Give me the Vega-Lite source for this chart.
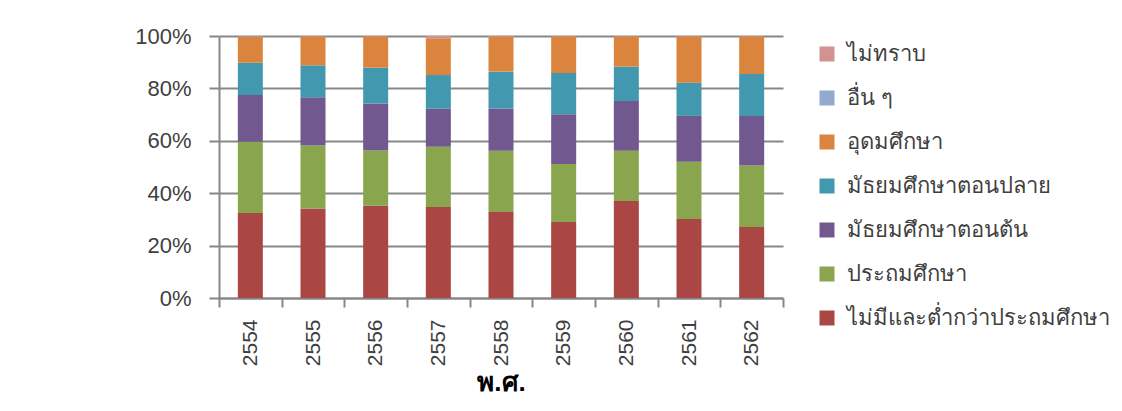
{
  "$schema": "https://vega.github.io/schema/vega-lite/v6.json",
  "width": 564,
  "height": 262,
  "autosize": {"type": "none"},
  "padding": {"left": 219, "top": 36, "right": 339, "bottom": 113},
  "background": "white",
  "config": {
    "view": {"stroke": null},
    "font": "Liberation Sans",
    "axis": {"labelColor": "#404040", "titleColor": "#000000", "domainColor": "#878787", "tickColor": "#878787", "gridColor": "#878787", "domainWidth": 2, "tickWidth": 2, "gridWidth": 2}
  },
  "datasets": {
    "levels": [
      {"edu": "ไม่มีและต่ำกว่าประถมศึกษา", "level": 1},
      {"edu": "ประถมศึกษา", "level": 2},
      {"edu": "มัธยมศึกษาตอนต้น", "level": 3},
      {"edu": "มัธยมศึกษาตอนปลาย", "level": 4},
      {"edu": "อุดมศึกษา", "level": 5},
      {"edu": "อื่น ๆ", "level": 6},
      {"edu": "ไม่ทราบ", "level": 7}
    ]
  },
  "data": {
    "values": [
      {"year": "2554", "edu": "ไม่มีและต่ำกว่าประถมศึกษา", "pct": 32.4},
      {"year": "2554", "edu": "ประถมศึกษา", "pct": 27.2},
      {"year": "2554", "edu": "มัธยมศึกษาตอนต้น", "pct": 17.9},
      {"year": "2554", "edu": "มัธยมศึกษาตอนปลาย", "pct": 12.3},
      {"year": "2554", "edu": "อุดมศึกษา", "pct": 9.9},
      {"year": "2554", "edu": "อื่น ๆ", "pct": 0.1},
      {"year": "2554", "edu": "ไม่ทราบ", "pct": 0.2},
      {"year": "2555", "edu": "ไม่มีและต่ำกว่าประถมศึกษา", "pct": 34.2},
      {"year": "2555", "edu": "ประถมศึกษา", "pct": 24.0},
      {"year": "2555", "edu": "มัธยมศึกษาตอนต้น", "pct": 18.4},
      {"year": "2555", "edu": "มัธยมศึกษาตอนปลาย", "pct": 12.2},
      {"year": "2555", "edu": "อุดมศึกษา", "pct": 11.0},
      {"year": "2555", "edu": "อื่น ๆ", "pct": 0.0},
      {"year": "2555", "edu": "ไม่ทราบ", "pct": 0.2},
      {"year": "2556", "edu": "ไม่มีและต่ำกว่าประถมศึกษา", "pct": 35.2},
      {"year": "2556", "edu": "ประถมศึกษา", "pct": 21.1},
      {"year": "2556", "edu": "มัธยมศึกษาตอนต้น", "pct": 17.9},
      {"year": "2556", "edu": "มัธยมศึกษาตอนปลาย", "pct": 13.7},
      {"year": "2556", "edu": "อุดมศึกษา", "pct": 11.9},
      {"year": "2556", "edu": "อื่น ๆ", "pct": 0.0},
      {"year": "2556", "edu": "ไม่ทราบ", "pct": 0.2},
      {"year": "2557", "edu": "ไม่มีและต่ำกว่าประถมศึกษา", "pct": 34.7},
      {"year": "2557", "edu": "ประถมศึกษา", "pct": 23.0},
      {"year": "2557", "edu": "มัธยมศึกษาตอนต้น", "pct": 14.6},
      {"year": "2557", "edu": "มัธยมศึกษาตอนปลาย", "pct": 12.8},
      {"year": "2557", "edu": "อุดมศึกษา", "pct": 14.0},
      {"year": "2557", "edu": "อื่น ๆ", "pct": 0.0},
      {"year": "2557", "edu": "ไม่ทราบ", "pct": 0.9},
      {"year": "2558", "edu": "ไม่มีและต่ำกว่าประถมศึกษา", "pct": 32.8},
      {"year": "2558", "edu": "ประถมศึกษา", "pct": 23.4},
      {"year": "2558", "edu": "มัธยมศึกษาตอนต้น", "pct": 16.1},
      {"year": "2558", "edu": "มัธยมศึกษาตอนปลาย", "pct": 14.1},
      {"year": "2558", "edu": "อุดมศึกษา", "pct": 13.3},
      {"year": "2558", "edu": "อื่น ๆ", "pct": 0.0},
      {"year": "2558", "edu": "ไม่ทราบ", "pct": 0.3},
      {"year": "2559", "edu": "ไม่มีและต่ำกว่าประถมศึกษา", "pct": 29.0},
      {"year": "2559", "edu": "ประถมศึกษา", "pct": 22.1},
      {"year": "2559", "edu": "มัธยมศึกษาตอนต้น", "pct": 19.0},
      {"year": "2559", "edu": "มัธยมศึกษาตอนปลาย", "pct": 15.8},
      {"year": "2559", "edu": "อุดมศึกษา", "pct": 13.9},
      {"year": "2559", "edu": "อื่น ๆ", "pct": 0.0},
      {"year": "2559", "edu": "ไม่ทราบ", "pct": 0.2},
      {"year": "2560", "edu": "ไม่มีและต่ำกว่าประถมศึกษา", "pct": 37.0},
      {"year": "2560", "edu": "ประถมศึกษา", "pct": 19.2},
      {"year": "2560", "edu": "มัธยมศึกษาตอนต้น", "pct": 19.0},
      {"year": "2560", "edu": "มัธยมศึกษาตอนปลาย", "pct": 13.1},
      {"year": "2560", "edu": "อุดมศึกษา", "pct": 11.5},
      {"year": "2560", "edu": "อื่น ๆ", "pct": 0.0},
      {"year": "2560", "edu": "ไม่ทราบ", "pct": 0.2},
      {"year": "2561", "edu": "ไม่มีและต่ำกว่าประถมศึกษา", "pct": 30.2},
      {"year": "2561", "edu": "ประถมศึกษา", "pct": 21.8},
      {"year": "2561", "edu": "มัธยมศึกษาตอนต้น", "pct": 17.5},
      {"year": "2561", "edu": "มัธยมศึกษาตอนปลาย", "pct": 12.7},
      {"year": "2561", "edu": "อุดมศึกษา", "pct": 17.6},
      {"year": "2561", "edu": "อื่น ๆ", "pct": 0.0},
      {"year": "2561", "edu": "ไม่ทราบ", "pct": 0.2},
      {"year": "2562", "edu": "ไม่มีและต่ำกว่าประถมศึกษา", "pct": 27.1},
      {"year": "2562", "edu": "ประถมศึกษา", "pct": 23.5},
      {"year": "2562", "edu": "มัธยมศึกษาตอนต้น", "pct": 18.9},
      {"year": "2562", "edu": "มัธยมศึกษาตอนปลาย", "pct": 16.0},
      {"year": "2562", "edu": "อุดมศึกษา", "pct": 14.3},
      {"year": "2562", "edu": "อื่น ๆ", "pct": 0.0},
      {"year": "2562", "edu": "ไม่ทราบ", "pct": 0.2}
    ]
  },
  "transform": [
    {"lookup": "edu", "from": {"data": {"name": "levels"}, "key": "edu", "fields": ["level"]}}
  ],
  "mark": {"type": "bar", "size": 25},
  "encoding": {
    "x": {
      "field": "year",
      "type": "nominal",
      "scale": {"paddingInner": 0, "paddingOuter": 0},
      "axis": {
        "title": "พ.ศ.",
        "titleFontSize": 26,
        "titleFontWeight": "bold",
        "titlePadding": 4,
        "labelAngle": 270,
        "labelFontSize": 21,
        "labelPadding": 12,
        "tickBand": "extent",
        "tickSize": 9,
        "grid": false
      }
    },
    "y": {
      "field": "pct",
      "type": "quantitative",
      "stack": "normalize",
      "scale": {"domain": [0, 1]},
      "axis": {
        "title": null,
        "format": ".0%",
        "values": [0, 0.2, 0.4, 0.6, 0.8, 1],
        "labelFontSize": 22,
        "labelPadding": 18,
        "tickSize": 10,
        "grid": true
      }
    },
    "order": {"field": "level", "type": "quantitative", "sort": "ascending"},
    "color": {
      "field": "edu",
      "type": "nominal",
      "scale": {
        "domain": ["ไม่ทราบ", "อื่น ๆ", "อุดมศึกษา", "มัธยมศึกษาตอนปลาย", "มัธยมศึกษาตอนต้น", "ประถมศึกษา", "ไม่มีและต่ำกว่าประถมศึกษา"],
        "range": ["#D19392", "#93A9CF", "#DB843D", "#4198AF", "#71588F", "#89A54E", "#AA4643"]
      },
      "legend": {
        "title": null,
        "orient": "none",
        "legendX": 597,
        "legendY": 7,
        "symbolType": "square",
        "symbolSize": 225,
        "symbolStrokeWidth": 0,
        "labelFontSize": 22,
        "labelColor": "#404040",
        "labelOffset": 9,
        "rowPadding": 22,
        "padding": 0,
        "labelLimit": 400
      }
    }
  }
}
